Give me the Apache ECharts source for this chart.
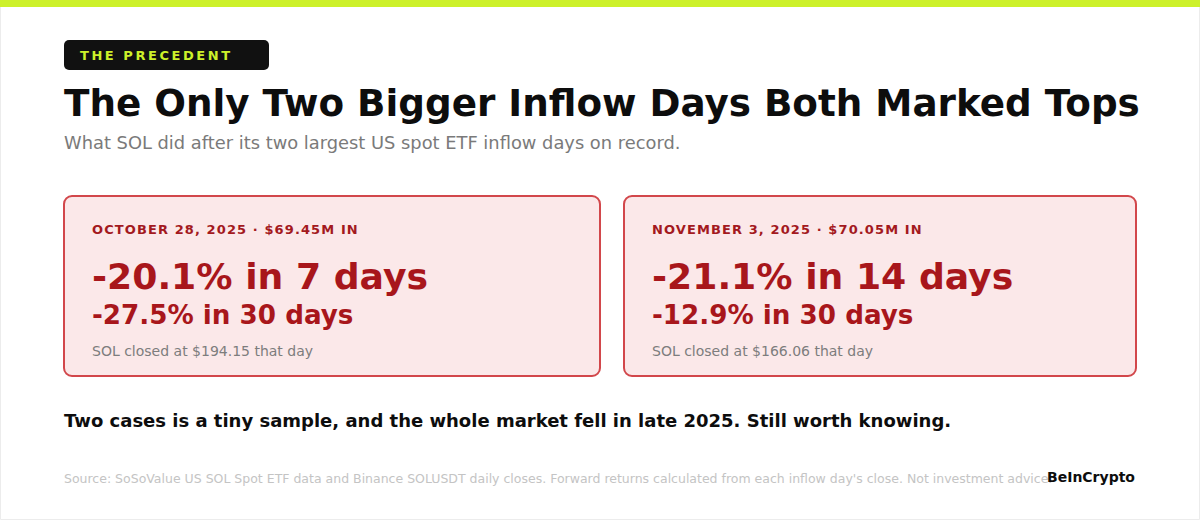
<!DOCTYPE html>
<html>
<head>
<meta charset="utf-8">
<script src="https://cdn.jsdelivr.net/npm/echarts@6/dist/echarts.min.js"></script>
<style>
html,body{margin:0;padding:0;background:#fff;}
#chart{width:1200px;height:520px;}
</style>
</head>
<body>
<div id="chart"></div>
<script>
// ---- data ----
const badgeLabel = 'THE PRECEDENT';
const titleText = 'The Only Two Bigger Inflow Days Both Marked Tops';
const subtitleText = 'What SOL did after its two largest US spot ETF inflow days on record.';
const inflowDates = ['OCTOBER 28, 2025', 'NOVEMBER 3, 2025'];
const inflowAmounts = [69.45, 70.05];          // $M
const shortReturns = [-20.1, -21.1];           // %
const shortWindows = [7, 14];                  // days
const monthReturns = [-27.5, -12.9];           // % over 30 days
const closePrices = [194.15, 166.06];          // SOL close, $
const noteText = 'Two cases is a tiny sample, and the whole market fell in late 2025. Still worth knowing.';
const sourceText = "Source: SoSoValue US SOL Spot ETF data and Binance SOLUSDT daily closes. Forward returns calculated from each inflow day's close. Not investment advice.";
const brandText = 'BeInCrypto';

// ---- layout ----
const FONT = '"DejaVu Sans", "Noto Sans", sans-serif';
const cardX = [64, 624];
const cardW = [536, 512];
const cardY = 196, cardH = 180;

const els = [];
els.push({type:'rect', shape:{x:0.5,y:0.5,width:1199,height:519}, style:{fill:'#fff', stroke:'#ececec', lineWidth:1}, z:0});
els.push({type:'rect', shape:{x:0,y:0,width:1200,height:7}, style:{fill:'#cdf12a'}, z:1});
els.push({type:'rect', shape:{x:64,y:40,width:205,height:30,r:5}, style:{fill:'#111111'}, z:1});
els.push({type:'text', id:'badge', x:80, y:55, style:{text:badgeLabel, fill:'#cdf12a', font:'bold 13px '+FONT, verticalAlign:'middle'}, z:2});
els.push({type:'text', x:64, y:103, style:{text:titleText, fill:'#0d0d0d', font:'bold 37.3px '+FONT, verticalAlign:'middle'}, z:2});
els.push({type:'text', x:64, y:142, style:{text:subtitleText, fill:'#7a7a7a', font:'17.85px '+FONT, verticalAlign:'middle'}, z:2});

const fmtPct = v => (v < 0 ? '-' : '+') + Math.abs(v).toFixed(1) + '%';
for (let i = 0; i < inflowDates.length; i++) {
  const x = cardX[i];
  els.push({type:'rect', shape:{x:x, y:cardY, width:cardW[i], height:cardH, r:8}, style:{fill:'#fbe8e9', stroke:'#d2474b', lineWidth:2}, z:1});
  els.push({type:'text', id:'hdr'+i, x:x+28, y:229, style:{text:inflowDates[i] + ' · $' + inflowAmounts[i].toFixed(2) + 'M IN', fill:'#a3191e', font:'bold 13px '+FONT, verticalAlign:'middle'}, z:2});
  els.push({type:'text', x:x+28, y:276, style:{text:fmtPct(shortReturns[i]) + ' in ' + shortWindows[i] + ' days', fill:'#a8161b', font:'bold 36.2px '+FONT, verticalAlign:'middle'}, z:2});
  els.push({type:'text', x:x+28, y:315, style:{text:fmtPct(monthReturns[i]) + ' in 30 days', fill:'#a8161b', font:'bold 26.2px '+FONT, verticalAlign:'middle'}, z:2});
  els.push({type:'text', x:x+28, y:351, style:{text:'SOL closed at $' + closePrices[i].toFixed(2) + ' that day', fill:'#7d7d7d', font:'14px '+FONT, verticalAlign:'middle'}, z:2});
}
els.push({type:'text', x:64, y:420, style:{text:noteText, fill:'#0d0d0d', font:'bold 18px '+FONT, verticalAlign:'middle'}, z:2});
els.push({type:'text', x:64, y:478, style:{text:sourceText, fill:'#c4c4c4', font:'12.5px '+FONT, verticalAlign:'middle'}, z:2});
els.push({type:'text', x:1047, y:477, style:{text:brandText, fill:'#0d0d0d', font:'bold 14px '+FONT, verticalAlign:'middle'}, z:3});

const chart = echarts.init(document.getElementById('chart'), null, {renderer:'svg'});
chart.setOption({animation:false, backgroundColor:'#fff', graphic:{elements:els}});

// letter spacing for small caps labels
function spaceLetters(){
  document.querySelectorAll('#chart svg text').forEach(t => {
    const s = t.textContent;
    if (s === badgeLabel) t.setAttribute('letter-spacing','2.55');
    else if (/ · \$/.test(s)) t.setAttribute('letter-spacing','1.1');
  });
}
spaceLetters();
setTimeout(spaceLetters, 50);
</script>
</body>
</html>
